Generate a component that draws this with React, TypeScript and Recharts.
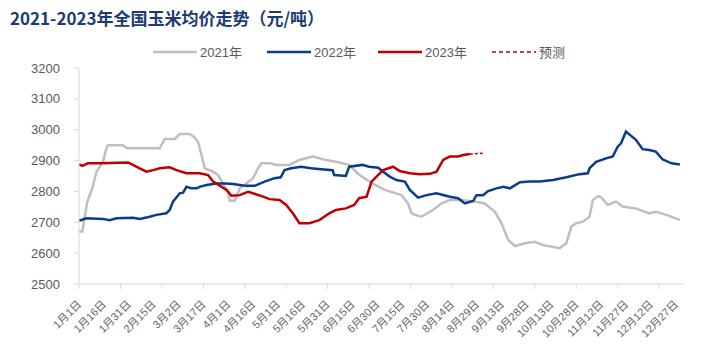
import React from 'react';
import { LineChart, Line, XAxis, YAxis } from 'recharts';

// x = day of year (0 = 1月1日), y = 元/吨
const days2021 = [0, 2, 5, 8, 10.5, 14.5, 16.5, 17.5, 26.5, 29, 48.7, 51.7, 57.8, 60.8, 66.8, 69.8, 71.8, 73.9, 75.9, 80.9, 83.9, 86.9, 89.9, 90.9, 94, 97, 101, 105, 108, 110, 115, 119, 127, 133, 141, 149, 155, 163, 168, 172, 177, 184.5, 194.6, 198.5, 200.6, 202.6, 206.6, 213.6, 218.7, 223.7, 230.8, 238.8, 244.8, 250.9, 254.9, 258.9, 263, 269, 275, 280, 290, 294, 297, 300, 304, 308, 310, 313, 315, 319, 324, 328, 336, 344, 348, 354.5, 362.5];
const prices2021 = [2670, 2670, 2767, 2810, 2864, 2896, 2940, 2950, 2950, 2940, 2940, 2970, 2970, 2986, 2986, 2975, 2961, 2918, 2875, 2864, 2853, 2826, 2799, 2770, 2770, 2810, 2826, 2843, 2875, 2891, 2891, 2886, 2886, 2902, 2913, 2902, 2896, 2886, 2859, 2843, 2826, 2805, 2788, 2761, 2730, 2724, 2718, 2740, 2761, 2772, 2772, 2767, 2761, 2734, 2697, 2643, 2623, 2632, 2637, 2626, 2616, 2632, 2686, 2697, 2702, 2718, 2772, 2785, 2781, 2756, 2767, 2751, 2745, 2729, 2734, 2724, 2707];

const days2022 = [0, 4.5, 14.5, 18.5, 22.6, 32.6, 36.6, 42.7, 46.7, 52.7, 54.7, 56.7, 60.8, 62.8, 64.8, 67.8, 70.9, 72.8, 76.9, 82.9, 89, 92.9, 97, 101, 106, 112, 118, 121.7, 124, 128, 134, 140, 146, 153, 154, 161, 163, 171, 175, 180.5, 183.5, 187.5, 191.5, 196.6, 199.6, 204.6, 209.7, 215.7, 223.7, 228.7, 232.8, 237.8, 239.8, 243.8, 246.8, 251.9, 255.9, 260, 266, 272, 278, 286, 294, 302, 307, 308, 312, 318, 322, 325, 327, 330, 332, 336, 340, 344, 348, 352, 357.5, 362.5];
const prices2022 = [2705, 2713, 2711, 2707, 2713, 2715, 2711, 2718, 2724, 2729, 2740, 2767, 2794, 2796, 2815, 2810, 2810, 2815, 2821, 2826, 2826, 2824, 2821, 2818, 2818, 2832, 2843, 2846, 2869, 2875, 2880, 2875, 2872, 2869, 2853, 2850, 2880, 2886, 2880, 2877, 2864, 2848, 2837, 2832, 2805, 2780, 2788, 2794, 2783, 2778, 2761, 2769, 2788, 2788, 2801, 2810, 2815, 2810, 2830, 2832, 2832, 2837, 2846, 2856, 2859, 2875, 2896, 2907, 2913, 2945, 2956, 2994, 2985, 2967, 2937, 2934, 2929, 2904, 2891, 2887];

const days2023 = [0, 2, 5.4, 12.5, 29.6, 32.6, 36.6, 40.7, 44.7, 48.7, 54.7, 58.8, 64.8, 72.8, 77.9, 80.9, 84.9, 89, 92, 97, 102, 105, 111, 115, 121, 125, 129, 133, 139, 145, 151, 155, 161, 166, 169, 173.5, 176.5, 179.5, 183.5, 189.5, 193.5, 199.6, 205.6, 211.7, 215.7, 219.7, 223.7, 228.7, 231.7, 235.8];
const prices2023 = [2888, 2883, 2891, 2891, 2894, 2886, 2875, 2864, 2869, 2875, 2878, 2869, 2859, 2859, 2853, 2832, 2819, 2805, 2786, 2788, 2799, 2794, 2783, 2775, 2772, 2756, 2729, 2697, 2697, 2707, 2729, 2740, 2745, 2756, 2778, 2783, 2832, 2848, 2869, 2880, 2866, 2859, 2856, 2857, 2864, 2902, 2913, 2913, 2918, 2921];

const forecastDays = [235.8, 244.8];
const forecastPrices = [2921, 2924];

const labelDays = [0, 15, 30, 45, 60, 75, 90, 105, 120, 135, 150, 165, 180, 195, 210, 225, 240, 255, 270, 285, 300, 315, 330, 345, 360];
const tickLabels = ['1月1日', '1月16日', '1月31日', '2月15日', '3月2日', '3月17日', '4月1日', '4月16日', '5月1日', '5月16日', '5月31日', '6月15日', '6月30日', '7月15日', '7月30日', '8月14日', '8月29日', '9月13日', '9月28日', '10月13日', '10月28日', '11月12日', '11月27日', '12月12日', '12月27日'];
const markDays = [0, 25, 50, 75, 100, 125, 150, 175, 200, 225, 250, 275, 300, 325, 350];
const yTicks = [2500, 2600, 2700, 2800, 2900, 3000, 3100, 3200];

const toRows = (ds: number[], vs: number[]) => ds.map((d, i) => ({ day: d, price: vs[i] }));

const allTicks = Array.from(new Set([...labelDays, ...markDays])).sort((a, b) => a - b);

const FONT = '"Liberation Sans", "Noto Sans CJK SC", sans-serif';
const GREY = '#BFBFBF';
const BLUE = '#0B3C8C';
const RED = '#C00000';

const DayTick = (props: any) => {
  const { x, y, payload } = props;
  const d = payload.value;
  const i = labelDays.indexOf(d);
  const tx = x + 3;
  const ty = y + 21;
  return (
    <g>
      {markDays.includes(d) && <line x1={x} y1={y} x2={x} y2={y + 5} stroke="#D9D9D9" />}
      {i >= 0 && (
        <text x={tx} y={ty} transform={`rotate(-45, ${tx}, ${ty})`} textAnchor="end" fontSize={11} fill="#666666" fontFamily={FONT}>
          {tickLabels[i]}
        </text>
      )}
    </g>
  );
};

const legendItems = [
  { name: '2021年', color: GREY, x: 153, dash: undefined },
  { name: '2022年', color: BLUE, x: 267, dash: undefined },
  { name: '2023年', color: RED, x: 378, dash: undefined },
  { name: '预测', color: RED, x: 492, dash: '4 3' },
];

export default function App() {
  return (
    <div style={{ position: 'absolute', left: 0, top: 0, width: 707, height: 357, background: '#fff', fontFamily: FONT }}>
      <div style={{ position: 'absolute', left: 10, top: 5, fontSize: 17, fontWeight: 'bold', color: '#1B3C73', fontFamily: '"Noto Sans CJK SC", sans-serif', whiteSpace: 'nowrap' }}>
        2021-2023年全国玉米均价走势（元/吨）
      </div>
      <LineChart width={707} height={357} margin={{ top: 68, right: 23, left: 19, bottom: 13 }}>
        <XAxis
          type="number"
          dataKey="day"
          domain={[0, 365]}
          ticks={allTicks}
          interval={0}
          tick={<DayTick />}
          tickLine={false}
          tickSize={0}
          tickMargin={0}
          axisLine={{ stroke: '#D9D9D9' }}
          height={60}
          allowDuplicatedCategory={false}
        />
        <YAxis
          domain={[2500, 3200]}
          ticks={yTicks}
          interval={0}
          width={60}
          tickSize={5}
          tickMargin={14}
          tickLine={{ stroke: '#D9D9D9' }}
          axisLine={{ stroke: '#D9D9D9' }}
          tick={{ fill: '#595959', fontSize: 13, fontFamily: FONT }}
        />
        <Line data={toRows(days2021, prices2021)} dataKey="price" name="2021年" type="linear" stroke={GREY} strokeWidth={2.5} dot={false} isAnimationActive={false} />
        <Line data={toRows(days2022, prices2022)} dataKey="price" name="2022年" type="linear" stroke={BLUE} strokeWidth={2.5} dot={false} isAnimationActive={false} />
        <Line data={toRows(days2023, prices2023)} dataKey="price" name="2023年" type="linear" stroke={RED} strokeWidth={2.5} dot={false} isAnimationActive={false} />
        <Line data={toRows(forecastDays, forecastPrices)} dataKey="price" name="预测" type="linear" stroke={RED} strokeWidth={1.5} strokeDasharray="3 2" dot={false} isAnimationActive={false} />
      </LineChart>
      <svg style={{ position: 'absolute', left: 0, top: 40 }} width={707} height={24}>
        {legendItems.map((it) => (
          <g key={it.name}>
            <line x1={it.x} y1={12} x2={it.x + 44} y2={12} stroke={it.color} strokeWidth={it.dash ? 1.5 : 2.5} strokeDasharray={it.dash} />
            <text x={it.x + 47} y={17} fontSize={13} fill="#595959" fontFamily={FONT}>{it.name}</text>
          </g>
        ))}
      </svg>
    </div>
  );
}
